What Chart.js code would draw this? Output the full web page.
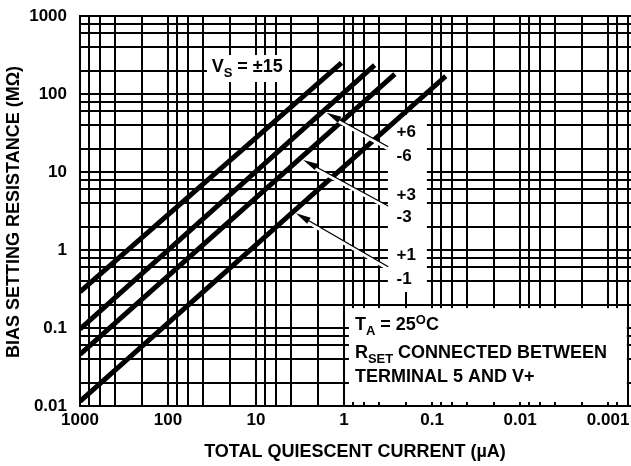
<!DOCTYPE html>
<html>
<head>
<meta charset="utf-8">
<script src="https://cdn.jsdelivr.net/npm/chart.js@4.4.0/dist/chart.umd.min.js"></script>
<style>
  html, body { margin: 0; padding: 0; background: #fff; }
</style>
</head>
<body>
<canvas id="chart" width="631" height="466"></canvas>
<script>
// ── DATA ────────────────────────────────────────
const xDecades    = [1000, 100, 10, 1, 0.1, 0.01, 0.001];
const xTickLabels = ['1000', '100', '10', '1', '0.1', '0.01', '0.001'];
const yDecades    = [1000, 100, 10, 1, 0.1, 0.01];
const yTickLabels = ['1000', '100', '10', '1', '0.1', '0.01'];
const minorSteps  = [2, 4, 6, 8];

// total quiescent current (uA) / bias setting resistance (MOhm), line ends
const currentVs15 = [1000, 1.07];   const resistVs15 = [0.29, 250];
const currentVs6  = [1000, 0.45];   const resistVs6  = [0.097, 235];
const currentVs3  = [1000, 0.265];  const resistVs3  = [0.046, 180];
const currentVs1  = [1000, 0.07];   const resistVs1  = [0.0115, 170];

const supplyLabels = ['+6', '-6', '+3', '-3', '+1', '-1'];

// ── GRID VALUES ─────────────────────────────────
const X_MIN = 0.00055, X_MAX = 1000, Y_MIN = 0.01, Y_MAX = 1000;
function gridValues(decs, min, max) {
  const out = [];
  decs.concat([decs[decs.length - 1] / 10]).forEach(d => {
    if (d >= min && d <= max) out.push(d);
    minorSteps.forEach(m => {
      const v = d * m;
      if (v > min && v < max) out.push(v);
    });
  });
  return out.sort((a, b) => a - b);
}
const xGrid = gridValues(xDecades, X_MIN, X_MAX);
const yGrid = gridValues(yDecades, Y_MIN, Y_MAX);

function labelFor(v, decs, labels) {
  const i = decs.findIndex(d => Math.abs(Math.log10(d) - Math.log10(v)) < 1e-6);
  return i >= 0 ? labels[i] : '';
}
const pts = (xs, ys) => xs.map((x, i) => ({ x, y: ys[i] }));

// ── ANNOTATIONS (data units) ────────────────────
const boxes = [
  { x0: 36.1,  x1: 4.23,     y0: 316,  y1: 142.6 },   // Vs = ±15
  { x0: 0.318, x1: 0.1146,   y0: 53.8, y1: 0.289 },   // +6 .. -1
  { x0: 0.881, x1: 0.000614, y0: 0.18, y1: 0.01125 }  // note
];
const arrows = [
  { from: [0.315, 21.1],  to: [1.58, 57.6] },
  { from: [0.315, 3.66],  to: [2.91, 14.3] },
  { from: [0.315, 0.611], to: [3.52, 2.96] }
];
const labelAnchorX = 0.253;
const labelAnchorY = [31.9, 15.7, 5.07, 2.63, 0.863, 0.421];

const FONT = "'Liberation Sans', Arial, sans-serif";

function drawRich(ctx, x, y, parts, size) {
  parts.forEach(([t, kind]) => {
    const s  = kind ? size * 0.72 : size;
    const dy = kind === 'sub' ? size * 0.28 : kind === 'sup' ? -size * 0.36 : 0;
    ctx.font = `bold ${s}px ${FONT}`;
    ctx.fillText(t, x, y + dy);
    x += ctx.measureText(t).width;
  });
}

const annotate = {
  id: 'annotate',
  beforeDatasetsDraw(chart) {
    const { ctx, scales: { x, y } } = chart;
    ctx.save();
    ctx.fillStyle = '#fff';
    boxes.forEach(b => {
      const l = x.getPixelForValue(b.x0), r = x.getPixelForValue(b.x1);
      const t = y.getPixelForValue(b.y0), bt = y.getPixelForValue(b.y1);
      ctx.fillRect(l, t, r - l, bt - t);
    });
    ctx.restore();
  },
  afterDatasetsDraw(chart) {
    const { ctx, scales: { x, y } } = chart;
    ctx.save();
    // arrows
    arrows.forEach(a => {
      const x0 = x.getPixelForValue(a.from[0]), y0 = y.getPixelForValue(a.from[1]);
      const x1 = x.getPixelForValue(a.to[0]),   y1 = y.getPixelForValue(a.to[1]);
      const ang = Math.atan2(y1 - y0, x1 - x0);
      const c = Math.cos(ang), s = Math.sin(ang);
      ctx.strokeStyle = '#fff'; ctx.lineWidth = 3.5;
      ctx.beginPath(); ctx.moveTo(x0, y0 + 2); ctx.lineTo(x1 - 8 * c, y1 - 8 * s + 2); ctx.stroke();
      ctx.strokeStyle = '#000'; ctx.lineWidth = 1.3;
      ctx.beginPath(); ctx.moveTo(x0, y0); ctx.lineTo(x1 - 8 * c, y1 - 8 * s); ctx.stroke();
      ctx.fillStyle = '#000';
      ctx.beginPath();
      ctx.moveTo(x1, y1);
      ctx.lineTo(x1 - 15 * c + 3.5 * s, y1 - 15 * s - 3.5 * c);
      ctx.lineTo(x1 - 15 * c - 3.5 * s, y1 - 15 * s + 3.5 * c);
      ctx.closePath(); ctx.fill();
    });
    // texts
    ctx.fillStyle = '#000';
    ctx.textAlign = 'left';
    ctx.textBaseline = 'middle';
    ctx.font = `bold 17px ${FONT}`;
    supplyLabels.forEach((t, i) => {
      ctx.fillText(t, x.getPixelForValue(labelAnchorX), y.getPixelForValue(labelAnchorY[i]));
    });
    ctx.textBaseline = 'alphabetic';
    drawRich(ctx, x.getPixelForValue(31.9), y.getPixelForValue(189.7),
      [['V'], ['S', 'sub'], [' = ±15']], 18);
    const nx = x.getPixelForValue(0.753);
    drawRich(ctx, nx, y.getPixelForValue(0.0942), [['T'], ['A', 'sub'], [' = 25'], ['O', 'sup'], ['C']], 18);
    drawRich(ctx, nx, y.getPixelForValue(0.0412), [['R'], ['SET', 'sub'], [' CONNECTED BETWEEN']], 18);
    drawRich(ctx, nx, y.getPixelForValue(0.0202), [['TERMINAL 5 AND V+']], 18);
    // axis titles
    ctx.font = `bold 18px ${FONT}`;
    ctx.textAlign = 'center';
    ctx.textBaseline = 'middle';
    ctx.fillText('TOTAL QUIESCENT CURRENT (µA)', 355, 452);
    ctx.translate(14, 212);
    ctx.rotate(-Math.PI / 2);
    ctx.fillText('BIAS SETTING RESISTANCE (MΩ)', 0, 0);
    ctx.restore();
  }
};

// ── CHART ───────────────────────────────────────
const lineStyle = { borderColor: '#000', borderWidth: 5, pointRadius: 0, tension: 0, borderCapStyle: 'butt', fill: false, clip: 0 };

new Chart(document.getElementById('chart'), {
  type: 'line',
  data: {
    datasets: [
      { label: 'VS = ±15', data: pts(currentVs15, resistVs15), ...lineStyle },
      { label: 'VS = ±6',  data: pts(currentVs6,  resistVs6),  ...lineStyle },
      { label: 'VS = ±3',  data: pts(currentVs3,  resistVs3),  ...lineStyle },
      { label: 'VS = ±1',  data: pts(currentVs1,  resistVs1),  ...lineStyle }
    ]
  },
  options: {
    responsive: false,
    animation: false,
    layout: { padding: { top: 16, left: 0, right: 0, bottom: 0 } },
    plugins: { legend: { display: false }, tooltip: { enabled: false } },
    scales: {
      x: {
        type: 'logarithmic',
        reverse: true,
        min: X_MIN, max: X_MAX,
        afterBuildTicks: s => { s.ticks = xGrid.map(v => ({ value: v })); },
        afterFit: s => { s.height = 60; s.paddingLeft = 0; s.paddingRight = 0; },
        grid: { color: '#000', lineWidth: 2, drawTicks: false },
        border: { color: '#000', width: 2 },
        ticks: {
          autoSkip: false, maxRotation: 0, padding: 4, color: '#000',
          font: { family: FONT, size: 17, weight: 'bold' },
          callback: v => labelFor(v, xDecades, xTickLabels)
        }
      },
      y: {
        type: 'logarithmic',
        min: Y_MIN, max: Y_MAX,
        afterBuildTicks: s => { s.ticks = yGrid.map(v => ({ value: v })); },
        afterFit: s => { s.width = 80; s.paddingTop = 0; s.paddingBottom = 0; },
        grid: { color: '#000', lineWidth: 2, drawTicks: false },
        border: { color: '#000', width: 2 },
        ticks: {
          autoSkip: false, padding: 13, color: '#000',
          font: { family: FONT, size: 17, weight: 'bold' },
          callback: v => labelFor(v, yDecades, yTickLabels)
        }
      }
    }
  },
  plugins: [annotate]
});
</script>
</body>
</html>
